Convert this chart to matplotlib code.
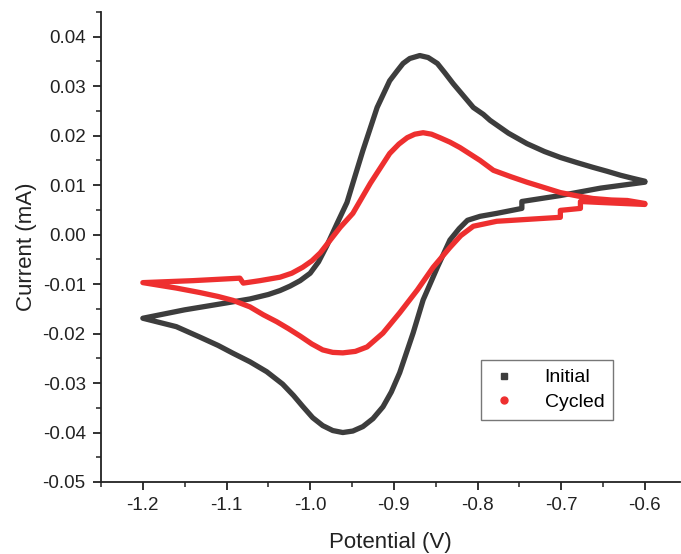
import matplotlib
matplotlib.use("Agg")
import matplotlib.pyplot as plt
from matplotlib.lines import Line2D
from matplotlib.ticker import MultipleLocator, FuncFormatter

plt.rcParams['font.family'] = ['Liberation Sans', 'DejaVu Sans']

# Initial: cathodic sweep (-0.6 -> -1.2) then anodic sweep (-1.2 -> -0.6)
initial_v = [-0.600, -0.653, -0.701, -0.747, -0.747, -0.777, -0.797, -0.812, -0.822,
             -0.833, -0.848, -0.865, -0.877, -0.893, -0.903, -0.913, -0.925, -0.937,
             -0.949, -0.961, -0.973, -0.985, -0.997, -1.009, -1.020, -1.033, -1.052,
             -1.072, -1.092, -1.110, -1.132, -1.160, -1.200,
             -1.150, -1.100, -1.072, -1.050, -1.036, -1.024, -1.012, -1.000, -0.990,
             -0.980, -0.968, -0.956, -0.947, -0.937, -0.920, -0.905, -0.896, -0.889,
             -0.881, -0.869, -0.859, -0.848, -0.839, -0.829, -0.817, -0.805, -0.793,
             -0.785, -0.763, -0.741, -0.720, -0.701, -0.680, -0.662, -0.645, -0.629,
             -0.615, -0.600]
initial_i = [0.0106, 0.0094, 0.0079, 0.0067, 0.0053, 0.0043, 0.0037, 0.0029, 0.0012,
             -0.0011, -0.0066, -0.0132, -0.0199, -0.0279, -0.0318, -0.0348, -0.0372, -0.0388,
             -0.0397, -0.0400, -0.0396, -0.0386, -0.0370, -0.0347, -0.0325, -0.0302, -0.0277,
             -0.0257, -0.0240, -0.0224, -0.0207, -0.0186, -0.0169,
             -0.0152, -0.0138, -0.0130, -0.0121, -0.0113, -0.0104, -0.0093, -0.0078, -0.0055,
             -0.0022, 0.0022, 0.0065, 0.0115, 0.0170, 0.0257, 0.0311, 0.0331, 0.0346,
             0.0356, 0.0362, 0.0358, 0.0346, 0.0327, 0.0305, 0.0281, 0.0257, 0.0243,
             0.0231, 0.0205, 0.0184, 0.0168, 0.0156, 0.0145, 0.0136, 0.0128, 0.0120,
             0.0114, 0.0108]

# Cycled
cycled_v = [-0.600, -0.653, -0.677, -0.677, -0.701, -0.701, -0.777, -0.805, -0.820,
            -0.833, -0.853, -0.872, -0.893, -0.913, -0.932, -0.946, -0.961, -0.973,
            -0.985, -0.998, -1.012, -1.026, -1.040, -1.056, -1.072, -1.092, -1.110,
            -1.132, -1.160, -1.200,
            -1.140, -1.084, -1.080, -1.060, -1.036, -1.022, -1.009, -0.998, -0.988,
            -0.976, -0.964, -0.949, -0.928, -0.905, -0.894, -0.884, -0.875, -0.865,
            -0.855, -0.845, -0.833, -0.821, -0.809, -0.797, -0.781, -0.760, -0.741,
            -0.720, -0.701, -0.680, -0.662, -0.640, -0.621, -0.600]
cycled_i = [0.0061, 0.0065, 0.0067, 0.0053, 0.0049, 0.0035, 0.0027, 0.0017, -0.0002,
            -0.0026, -0.0066, -0.0112, -0.0158, -0.0199, -0.0227, -0.0236, -0.0239, -0.0238,
            -0.0233, -0.0221, -0.0205, -0.0190, -0.0176, -0.0162, -0.0146, -0.0133, -0.0125,
            -0.0117, -0.0108, -0.0097,
            -0.0093, -0.0088, -0.0098, -0.0093, -0.0086, -0.0078, -0.0066, -0.0053, -0.0037,
            -0.0011, 0.0015, 0.0043, 0.0104, 0.0164, 0.0183, 0.0196, 0.0203, 0.0206,
            0.0203, 0.0196, 0.0187, 0.0176, 0.0163, 0.0150, 0.0130, 0.0117, 0.0106,
            0.0095, 0.0085, 0.0078, 0.0073, 0.0070, 0.0069, 0.0063]

labels = ["Initial", "Cycled"]
colors = ["#3d3d3d", "#ee2f2f"]

fig = plt.figure(figsize=(6.81, 5.54), dpi=100)
ax = fig.add_axes([101/681, (554-482)/554, (680-101)/681, (482-12)/554])

ax.plot(initial_v, initial_i, color=colors[0], lw=3.8, solid_capstyle='round', solid_joinstyle='round')
ax.plot(cycled_v, cycled_i, color=colors[1], lw=3.8, solid_capstyle='round', solid_joinstyle='round')

ax.set_xlim(-1.25, -0.558)
ax.set_ylim(-0.05, 0.045)
ax.xaxis.set_major_locator(MultipleLocator(0.1))
ax.xaxis.set_minor_locator(MultipleLocator(0.05))
ax.yaxis.set_major_locator(MultipleLocator(0.01))
ax.yaxis.set_minor_locator(MultipleLocator(0.005))
ax.xaxis.set_major_formatter(FuncFormatter(lambda v, p: ("%.1f" % v).replace("-0.0", "0.0")))
ax.yaxis.set_major_formatter(FuncFormatter(lambda v, p: "0.00" if abs(v) < 1e-9 else "%.2f" % v))

for s in ['top', 'right']:
    ax.spines[s].set_visible(False)
for s in ['left', 'bottom']:
    ax.spines[s].set_linewidth(1.3)
    ax.spines[s].set_color('#222222')

ax.tick_params(which='major', direction='out', length=6, width=1.3, labelsize=13.5, colors='#222222', pad=5)
ax.tick_params(which='minor', direction='out', length=3.5, width=1.1, colors='#222222')

ax.set_xlabel("Potential (V)", fontsize=16, labelpad=13, color='#222222')
ax.set_ylabel("Current (mA)", fontsize=16, labelpad=4, color='#222222')

handles = [Line2D([], [], marker='s', ls='none', color=colors[0], markersize=4.5),
           Line2D([], [], marker='o', ls='none', color=colors[1], markersize=5)]
leg = ax.legend(handles, labels, loc='upper left', bbox_to_anchor=(0.657, 0.2596),
                borderaxespad=0, fontsize=14, frameon=True, fancybox=False, edgecolor='#555555',
                handletextpad=1.4, borderpad=0.45, labelspacing=0.35, handlelength=1.4)
leg.get_frame().set_linewidth(1.0)

fig.savefig("out.png", dpi=100)
